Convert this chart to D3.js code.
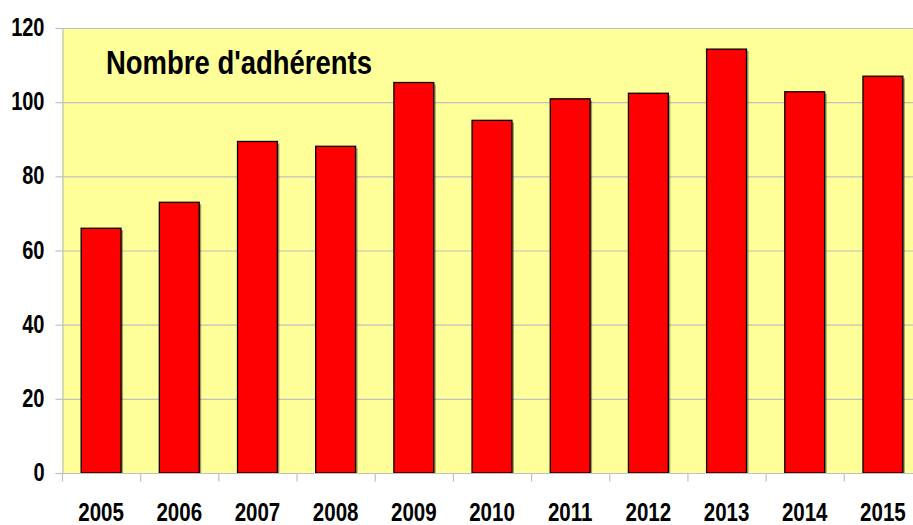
<!DOCTYPE html>
<html>
<head>
<meta charset="utf-8">
<script src="https://cdn.jsdelivr.net/npm/d3@7"></script>
<style>
  html, body { margin: 0; padding: 0; background: #ffffff; }
  svg { display: block; }
  text { font-family: "Liberation Sans", Arial, sans-serif; font-weight: bold; fill: #000; }
</style>
</head>
<body>
<svg id="chart" width="913" height="525"></svg>
<script>
// Members per year
const years = ["2005", "2006", "2007", "2008", "2009", "2010", "2011", "2012", "2013", "2014", "2015"];
const members = [66, 73, 89.4, 88.1, 105.3, 95.1, 100.9, 102.4, 114.3, 102.8, 107];
const yTicks = [0, 20, 40, 60, 80, 100, 120];
const chartTitle = "Nombre d'adhérents";

const svg = d3.select("#chart");
const margin = { left: 62, top: 28, right: -9, bottom: 52 };
const W = 913, H = 525;
const plotW = W - margin.left - margin.right;
const plotH = H - margin.top - margin.bottom;

const x = d3.scaleBand().domain(years).range([margin.left, margin.left + plotW]).paddingInner(0.49).paddingOuter(0.245);
const y = d3.scaleLinear().domain([0, 120]).range([margin.top + plotH, margin.top]);

// condense a text horizontally (narrow bold face look)
function condense(sel, factor) {
  sel.each(function () {
    const len = this.getComputedTextLength();
    d3.select(this).attr("textLength", len * factor).attr("lengthAdjust", "spacingAndGlyphs");
  });
}

// plot background
svg.append("rect")
  .attr("x", margin.left).attr("y", margin.top)
  .attr("width", plotW).attr("height", plotH)
  .attr("fill", "#ffff99");

// horizontal gridlines
svg.append("g").selectAll("line").data(yTicks).join("line")
  .attr("x1", margin.left).attr("x2", margin.left + plotW)
  .attr("y1", d => y(d) + 0.5).attr("y2", d => y(d) + 0.5)
  .attr("stroke", "#c0c0c0").attr("stroke-width", 1.2);

// bars with a soft drop shadow
const bars = svg.append("g");
bars.selectAll("rect.shadow").data(years).join("rect")
  .attr("class", "shadow")
  .attr("x", (d, i) => x(d) + 2).attr("y", (d, i) => y(members[i]) + 2)
  .attr("width", x.bandwidth()).attr("height", (d, i) => y(0) - y(members[i]) - 2)
  .attr("fill", "rgba(40,40,20,0.45)");
bars.selectAll("rect.bar").data(years).join("rect")
  .attr("class", "bar")
  .attr("x", d => x(d)).attr("y", (d, i) => y(members[i]))
  .attr("width", x.bandwidth()).attr("height", (d, i) => y(0) - y(members[i]))
  .attr("fill", "#ff0000").attr("stroke", "#000").attr("stroke-width", 1.3);

// y axis
const yAxis = svg.append("g")
  .attr("transform", `translate(${margin.left + 0.5},0)`)
  .call(d3.axisLeft(y).tickValues(yTicks).tickSize(7).tickPadding(11).tickFormat(d3.format("d")));
yAxis.select(".domain").attr("stroke", "#c0c0c0").attr("stroke-width", 1.2);
yAxis.selectAll(".tick line").attr("stroke", "#c0c0c0").attr("stroke-width", 1.2);
yAxis.selectAll(".tick text").style("font-size", "25px").attr("dy", "0.3em")
  .style("font-family", "Liberation Sans, Arial, sans-serif").style("font-weight", "bold").attr("fill", "#000");
condense(yAxis.selectAll(".tick text"), 0.8);

// x axis: ticks sit on the category boundaries
const xAxisG = svg.append("g").attr("transform", `translate(0,${y(0) + 0.5})`);
xAxisG.append("line").attr("x1", margin.left).attr("x2", margin.left + plotW)
  .attr("stroke", "#c0c0c0").attr("stroke-width", 1.2);
const step = x.step();
const bounds = d3.range(years.length + 1).map(i => margin.left + i * step);
xAxisG.selectAll("line.tk").data(bounds).join("line").attr("class", "tk")
  .attr("x1", d => d + 0.5).attr("x2", d => d + 0.5).attr("y1", 0).attr("y2", 8)
  .attr("stroke", "#c0c0c0").attr("stroke-width", 1.2);
xAxisG.selectAll("text").data(years).join("text")
  .attr("x", d => x(d) + x.bandwidth() / 2).attr("y", 47)
  .attr("text-anchor", "middle").style("font-size", "25px")
  .text(d => d);
condense(xAxisG.selectAll("text"), 0.82);

// title inside the plot
const title = svg.append("text")
  .attr("x", 106).attr("y", 74)
  .style("font-size", "33px")
  .text(chartTitle);
title.attr("textLength", 266).attr("lengthAdjust", "spacingAndGlyphs");
</script>
</body>
</html>
